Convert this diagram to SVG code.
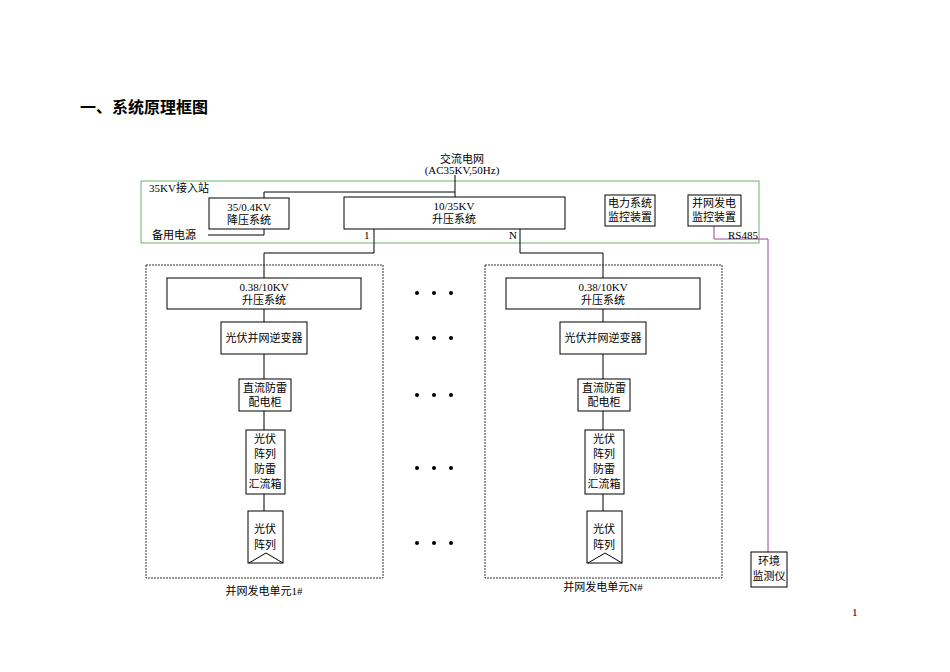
<svg xmlns="http://www.w3.org/2000/svg" width="950" height="672" viewBox="0 0 950 672">
<style>
text{font-family:"Liberation Serif","Noto Sans CJK SC",serif;font-size:11px;fill:#000}
.c{text-anchor:middle}
.b{fill:#fff;stroke:#000;stroke-width:1}
.ln{fill:none;stroke:#000;stroke-width:1}
.d{fill:none;stroke:#333;stroke-width:1;stroke-dasharray:2,1}
</style>
<rect width="950" height="672" fill="#fff"/>
<text x="80" y="113" style="font-family:'Noto Sans CJK SC',sans-serif;font-size:16px;font-weight:bold">一、系统原理框图</text>
<text x="852" y="616" font-size="10">1</text>
<g id="grid"><text class="c" x="462" y="163">交流电网</text><text class="c" x="462" y="174" font-size="10">(AC35KV,50Hz)</text></g>
<g id="station"><rect x="141" y="181" width="618" height="62" fill="none" stroke="#6ab56a"/><text x="149" y="192" font-size="10">35KV接入站</text></g>
<g id="connectors">
<path class="ln" d="M455,175V197M455,192H264V198M208,235H264V229M374,229V253H264V278M520,229V253H603V278"/>
<path class="ln" d="M264,309V322M264,354V379M264,411V430M264,494V511M603,309V322M603,354V379M603,411V430M603,494V511"/>
<path fill="none" stroke="#a040a0" d="M714,226V239H768V552"/>
</g>
<g id="step-down"><rect class="b" x="209" y="198" width="80" height="31"/><text class="c" x="249" y="211">35/0.4KV</text><text class="c" x="249" y="224">降压系统</text></g>
<g id="step-up"><rect class="b" x="344" y="197" width="221" height="32"/><text class="c" x="454" y="210">10/35KV</text><text class="c" x="454" y="223">升压系统</text></g>
<text x="364" y="239" font-size="10">1</text><text x="509" y="239" font-size="10">N</text>
<text x="152" y="239">备用电源</text>
<g id="power-monitor"><rect class="b" x="605" y="195" width="50" height="31"/><text class="c" x="630" y="207">电力系统</text><text class="c" x="630" y="221">监控装置</text></g>
<g id="grid-monitor"><rect class="b" x="688" y="195" width="53" height="31"/><text class="c" x="714" y="207">并网发电</text><text class="c" x="714" y="221">监控装置</text></g>
<text x="728" y="239" font-size="10">RS485</text>
<g id="env"><rect class="b" x="751" y="552" width="36" height="35"/><text class="c" x="769" y="565">环境</text><text class="c" x="769" y="580">监测仪</text></g>
<g id="unit1">
<rect class="d" x="146" y="265" width="237" height="313"/>
<rect class="b" x="167" y="278" width="194" height="31"/><text class="c" x="264" y="291">0.38/10KV</text><text class="c" x="264" y="304">升压系统</text>
<rect class="b" x="221" y="322" width="86" height="32"/><text class="c" x="264" y="342">光伏并网逆变器</text>
<rect class="b" x="239" y="379" width="52" height="32"/><text class="c" x="265" y="392">直流防雷</text><text class="c" x="265" y="406">配电柜</text>
<rect class="b" x="246" y="430" width="39" height="64"/><text class="c" x="265" y="443">光伏</text><text class="c" x="265" y="458">阵列</text><text class="c" x="265" y="473">防雷</text><text class="c" x="265" y="488">汇流箱</text>
<rect class="b" x="248" y="511" width="35" height="52"/><text class="c" x="265" y="533">光伏</text><text class="c" x="265" y="549">阵列</text><path class="ln" stroke="#666" d="M249,563L266,553L283,563"/>
<text class="c" x="264" y="595">并网发电单元1#</text>
</g>
<g id="unitN">
<rect class="d" x="485" y="265" width="237" height="313"/>
<rect class="b" x="506" y="278" width="194" height="31"/><text class="c" x="603" y="291">0.38/10KV</text><text class="c" x="603" y="304">升压系统</text>
<rect class="b" x="560" y="322" width="86" height="32"/><text class="c" x="603" y="342">光伏并网逆变器</text>
<rect class="b" x="578" y="379" width="52" height="32"/><text class="c" x="604" y="392">直流防雷</text><text class="c" x="604" y="406">配电柜</text>
<rect class="b" x="585" y="430" width="39" height="64"/><text class="c" x="604" y="443">光伏</text><text class="c" x="604" y="458">阵列</text><text class="c" x="604" y="473">防雷</text><text class="c" x="604" y="488">汇流箱</text>
<rect class="b" x="587" y="511" width="35" height="52"/><text class="c" x="604" y="533">光伏</text><text class="c" x="604" y="549">阵列</text><path class="ln" stroke="#666" d="M588,563L605,553L622,563"/>
<text class="c" x="603" y="591">并网发电单元N#</text>
</g>
<g id="dots" fill="#000">
<circle cx="417" cy="293" r="2"/><circle cx="434" cy="293" r="2"/><circle cx="451" cy="293" r="2"/>
<circle cx="417" cy="338" r="2"/><circle cx="434" cy="338" r="2"/><circle cx="451" cy="338" r="2"/>
<circle cx="417" cy="395" r="2"/><circle cx="434" cy="395" r="2"/><circle cx="451" cy="395" r="2"/>
<circle cx="417" cy="468" r="2"/><circle cx="434" cy="468" r="2"/><circle cx="451" cy="468" r="2"/>
<circle cx="417" cy="543" r="2"/><circle cx="434" cy="543" r="2"/><circle cx="451" cy="543" r="2"/>
</g>
</svg>
